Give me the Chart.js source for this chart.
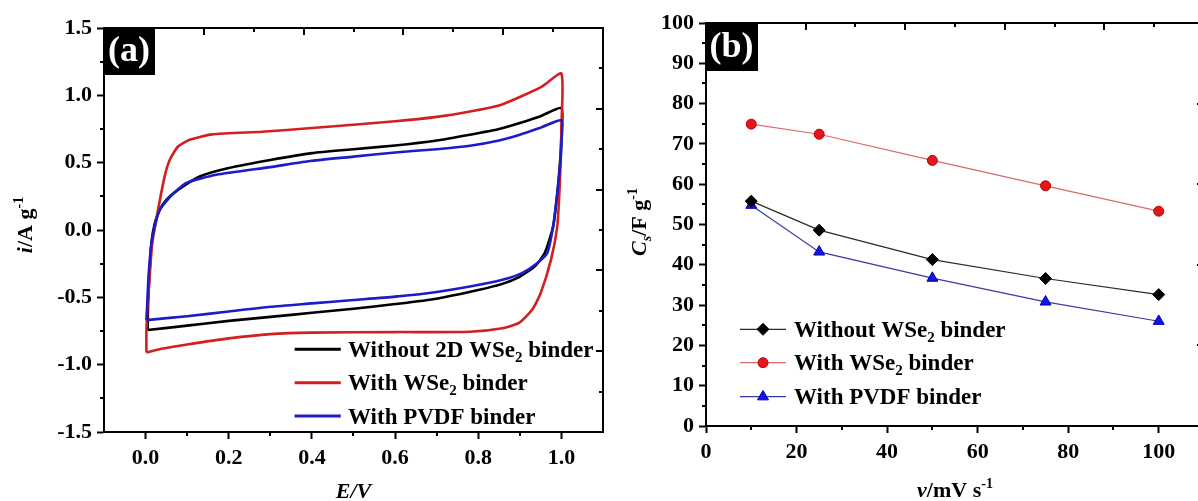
<!DOCTYPE html>
<html>
<head>
<meta charset="utf-8">
<script src="https://cdn.jsdelivr.net/npm/chart.js@4.4.1/dist/chart.umd.min.js"></script>
<style>
html,body{margin:0;padding:0;overflow:hidden;background:#fff;width:1198px;height:501px;}
#ca{position:absolute;left:0;top:0;}
#cb{position:absolute;left:620px;top:0;}
</style>
</head>
<body>
<canvas id="ca" width="620" height="501"></canvas>
<canvas id="cb" width="640" height="501"></canvas>
<script>
// ---------- Panel (a): cyclic voltammograms ----------
const cvLabels = ['Without 2D WSe2 binder', 'With WSe2 binder', 'With PVDF binder'];
const cvColors = ['#000000', '#d21f1f', '#1c1cc8'];
const cvXTicks = [0, 0.2, 0.4, 0.6, 0.8, 1.0];
const cvXMinor = [0.1, 0.3, 0.5, 0.7, 0.9];
const cvYTicks = [-1.5, -1.0, -0.5, 0, 0.5, 1.0, 1.5];
const cvYMinor = [-1.25, -0.75, -0.25, 0.25, 0.75, 1.25];

const cvBlackE = [0.005, 0.006, 0.009, 0.014, 0.022, 0.034, 0.05, 0.078, 0.13, 0.2, 0.3, 0.4, 0.5, 0.6, 0.7, 0.78, 0.85, 0.9, 0.95, 1.0,
                  1.0, 0.997, 0.99, 0.98, 0.96, 0.936, 0.898, 0.858, 0.8, 0.7, 0.6, 0.5, 0.4, 0.3, 0.2, 0.1, 0.005];
const cvBlackI = [-0.743, -0.55, -0.35, -0.1, 0.05, 0.15, 0.224, 0.298, 0.397, 0.46, 0.52, 0.571, 0.60, 0.628, 0.665, 0.708, 0.75, 0.795, 0.845, 0.906,
                  0.70, 0.52, 0.27, 0.025, -0.17, -0.27, -0.35, -0.40, -0.446, -0.51, -0.55, -0.585, -0.615, -0.645, -0.675, -0.71, -0.743];

const cvRedE = [0.002, 0.002, 0.005, 0.0096, 0.016, 0.03, 0.046, 0.058, 0.078, 0.106, 0.16, 0.28, 0.4, 0.6, 0.7, 0.78, 0.85, 0.9, 0.954, 1.0,
                1.0, 0.998, 0.995, 0.99, 0.975, 0.95, 0.93, 0.898, 0.858, 0.78, 0.6, 0.4, 0.3, 0.2, 0.1, 0.042, 0.002];
const cvRedI = [-0.909, -0.75, -0.55, -0.35, -0.1, 0.15, 0.40, 0.52, 0.62, 0.67, 0.71, 0.73, 0.757, 0.807, 0.84, 0.88, 0.925, 0.988, 1.067, 1.161,
                0.77, 0.5, 0.27, 0.025, -0.22, -0.47, -0.59, -0.69, -0.73, -0.756, -0.758, -0.762, -0.773, -0.805, -0.85, -0.88, -0.909];

const cvBlueE = [0.002, 0.004, 0.007, 0.014, 0.026, 0.034, 0.05, 0.07, 0.098, 0.17, 0.3, 0.4, 0.5, 0.6, 0.7, 0.78, 0.85, 0.9, 0.95, 1.0,
                 1.0, 0.998, 0.99, 0.98, 0.966, 0.94, 0.905, 0.858, 0.78, 0.7, 0.6, 0.5, 0.4, 0.3, 0.2, 0.1, 0.002];
const cvBlueI = [-0.669, -0.55, -0.35, -0.1, 0.075, 0.15, 0.215, 0.28, 0.35, 0.41, 0.467, 0.514, 0.545, 0.576, 0.60, 0.626, 0.665, 0.708, 0.76, 0.814,
                 0.65, 0.52, 0.27, 0.025, -0.17, -0.25, -0.32, -0.37, -0.42, -0.46, -0.495, -0.52, -0.545, -0.57, -0.605, -0.64, -0.669];

// ---------- Panel (b): specific capacitance vs scan rate ----------
const scanRates = [10, 25, 50, 75, 100];
const csWithout = [55.8, 48.6, 41.3, 36.6, 32.6];
const csWSe2    = [74.9, 72.4, 65.9, 59.6, 53.3];
const csPVDF    = [54.8, 43.2, 36.7, 30.8, 26.0];
const csLabels = ['Without WSe2 binder', 'With WSe2 binder', 'With PVDF binder'];
const csXTicks = [0, 20, 40, 60, 80, 100];
const csXMinor = [10, 30, 50, 70, 90];
const csYTicks = [0, 10, 20, 30, 40, 50, 60, 70, 80, 90, 100];
const csYMinor = [5, 15, 25, 35, 45, 55, 65, 75, 85, 95];

// frame (top / right) tick positions, inward
const frameTicks = [0, 1, 2, 3, 4, 5, 6, 7, 8, 9, 10];

const SERIF = "'Liberation Serif','Times New Roman',Times,serif";

function segFont(s, size) {
  const sz = (s.sub || s.sup) ? Math.round(size * 0.64) : size;
  return (s.it ? 'italic ' : '') + 'bold ' + sz + 'px ' + SERIF;
}
function richWidth(ctx, segs, size) {
  let w = 0;
  segs.forEach(s => { ctx.font = segFont(s, size); w += ctx.measureText(s.t).width; });
  return w;
}
function drawRich(ctx, segs, x, y, size, align) {
  const w = richWidth(ctx, segs, size);
  let cx = align === 'center' ? x - w / 2 : x;
  ctx.textAlign = 'left';
  ctx.textBaseline = 'alphabetic';
  segs.forEach(s => {
    ctx.font = segFont(s, size);
    const dy = s.sub ? size * 0.22 : (s.sup ? -size * 0.42 : 0);
    ctx.fillText(s.t, cx, y + dy);
    cx += ctx.measureText(s.t).width;
  });
}
function labelSegs(label) {
  const parts = label.split('WSe2');
  const segs = [];
  parts.forEach((p, i) => {
    if (i > 0) { segs.push({t: 'WSe'}); segs.push({t: '2', sub: true}); }
    if (p) segs.push({t: p});
  });
  return segs;
}
function drawMarker(ctx, ds, x, y) {
  const r = ds.pointRadius;
  ctx.fillStyle = ds.pointBackgroundColor;
  ctx.strokeStyle = ds.pointBorderColor;
  ctx.lineWidth = 1;
  ctx.beginPath();
  if (ds.pointStyle === 'circle') {
    ctx.arc(x, y, r, 0, Math.PI * 2);
  } else if (ds.pointStyle === 'rectRot') {
    ctx.moveTo(x, y - r); ctx.lineTo(x + r, y); ctx.lineTo(x, y + r); ctx.lineTo(x - r, y);
  } else {
    for (let k = 0; k < 3; k++) {
      const a = -Math.PI / 2 + k * 2 * Math.PI / 3;
      const px = x + Math.cos(a) * r, py = y + Math.sin(a) * r;
      if (k === 0) ctx.moveTo(px, py); else ctx.lineTo(px, py);
    }
  }
  ctx.closePath();
  ctx.fill();
  ctx.stroke();
}

const deco = {
  id: 'deco',
  afterDraw(chart, args, o) {
    const ctx = chart.ctx, ca = chart.chartArea;
    const sx = chart.scales.x, sy = chart.scales.y, tx = chart.scales.x2, ty = chart.scales.y2;
    ctx.save();
    // minor ticks (outward) + frame ticks (inward)
    ctx.strokeStyle = '#000';
    ctx.lineWidth = 2;
    ctx.beginPath();
    o.xMinor.forEach(v => { const p = Math.round(sx.getPixelForValue(v)); ctx.moveTo(p, ca.bottom); ctx.lineTo(p, ca.bottom + o.minorLen); });
    o.yMinor.forEach(v => { const p = Math.round(sy.getPixelForValue(v)); ctx.moveTo(ca.left, p); ctx.lineTo(ca.left - o.minorLen, p); });
    tx.ticks.forEach(t => {
      if (t.value <= tx.min || t.value >= tx.max) return;
      const L = t.value % 2 === 0 ? o.majorLen : o.minorLen;
      const p = Math.round(tx.getPixelForValue(t.value));
      ctx.moveTo(p, ca.top); ctx.lineTo(p, ca.top + L);
    });
    ty.ticks.forEach(t => {
      if (t.value <= ty.min || t.value >= ty.max) return;
      const L = t.value % 2 === 0 ? o.majorLen : o.minorLen;
      const p = Math.round(ty.getPixelForValue(t.value));
      ctx.moveTo(ca.right, p); ctx.lineTo(ca.right - L, p);
    });
    ctx.stroke();

    // legend
    const L = o.legend;
    chart.data.datasets.forEach((ds, i) => {
      const y = ca.bottom + L.rows[i];
      ctx.strokeStyle = ds.borderColor;
      ctx.lineWidth = L.lineWidth;
      ctx.beginPath();
      ctx.moveTo(ca.left + L.x0, y);
      ctx.lineTo(ca.left + L.x1, y);
      ctx.stroke();
      if (L.marker) drawMarker(ctx, ds, ca.left + L.xm, y);
      ctx.fillStyle = '#000';
      drawRich(ctx, labelSegs(ds.label), ca.left + L.xt, y + L.size * 0.33, L.size, 'left');
    });

    // axis titles
    ctx.fillStyle = '#000';
    drawRich(ctx, o.xTitle, (ca.left + ca.right) / 2, ca.bottom + o.xTitleDy, o.titleSize, 'center');
    ctx.save();
    ctx.translate(ca.left - o.yTitleDx, o.yTitleY);
    ctx.rotate(-Math.PI / 2);
    drawRich(ctx, o.yTitle, 0, 0, o.titleSize, 'center');
    ctx.restore();

    // panel tag
    ctx.fillStyle = '#000';
    ctx.fillRect(ca.left - 1, ca.top - 1, o.tagW, o.tagH);
    ctx.fillStyle = '#fff';
    ctx.font = 'bold 36px ' + SERIF;
    ctx.textAlign = 'center';
    ctx.textBaseline = 'middle';
    ctx.fillText(o.tag, ca.left - 1 + o.tagW / 2, ca.top - 1 + o.tagH / 2 + 1);
    ctx.restore();
  }
};

function axisX(min, max, ticks, fmt, h) {
  return {
    type: 'linear', position: 'bottom', min: min, max: max,
    afterBuildTicks: s => { s.ticks = ticks.map(v => ({value: v})); },
    afterFit: s => { s.height = h; },
    ticks: {font: {family: SERIF, size: 22, weight: 'bold'}, color: '#000', padding: 6, maxRotation: 0, autoSkip: false, callback: fmt},
    grid: {drawOnChartArea: false, drawTicks: true, tickLength: 7, tickWidth: 2, tickColor: '#000'},
    border: {display: true, color: '#000', width: 2}
  };
}
function axisY(min, max, ticks, fmt, w) {
  return {
    type: 'linear', position: 'left', min: min, max: max,
    afterBuildTicks: s => { s.ticks = ticks.map(v => ({value: v})); },
    afterFit: s => { s.width = w; },
    ticks: {font: {family: SERIF, size: 22, weight: 'bold'}, color: '#000', padding: 5, autoSkip: false, callback: fmt},
    grid: {drawOnChartArea: false, drawTicks: true, tickLength: 7, tickWidth: 2, tickColor: '#000'},
    border: {display: true, color: '#000', width: 2}
  };
}
function frameAxis(pos) {
  const horiz = pos === 'top';
  return {
    type: 'linear', position: pos, min: 0, max: 10,
    afterBuildTicks: s => { s.ticks = frameTicks.map(v => ({value: v})); },
    afterFit: s => { if (horiz) s.height = 0; else s.width = 0; },
    ticks: {display: false},
    grid: {display: false, drawTicks: false},
    border: {display: true, color: '#000', width: 2}
  };
}

// ---------- Chart (a) ----------
const cvSets = [[cvBlackE, cvBlackI], [cvRedE, cvRedI], [cvBlueE, cvBlueI]];
new Chart(document.getElementById('ca'), {
  type: 'line',
  data: {
    datasets: cvSets.map((s, k) => ({
      label: cvLabels[k],
      data: s[0].map((e, i) => ({x: e, y: s[1][i]})),
      borderColor: cvColors[k],
      borderWidth: 2.6,
      pointRadius: 0,
      fill: false,
      tension: 0.2,
      order: [2, 1, 0][k]
    }))
  },
  options: {
    responsive: false, animation: false, events: [],
    layout: {padding: {left: 0, right: 17, top: 28, bottom: 0}},
    plugins: {
      legend: {display: false}, tooltip: {enabled: false},
      deco: {
        xMinor: cvXMinor, yMinor: cvYMinor, minorLen: 4, majorLen: 7,
        legend: {rows: [-82.7, -49.3, -16], x0: 190.6, x1: 236.8, xt: 244, lineWidth: 3, size: 23, marker: false},
        xTitle: [{t: 'E/V', it: true}], xTitleDy: 66,
        yTitle: [{t: 'i', it: true}, {t: '/A g'}, {t: '-1', sup: true}], yTitleDx: 72, yTitleY: 225,
        titleSize: 22, tag: '(a)', tagW: 52, tagH: 48
      }
    },
    scales: {
      x: axisX(-0.1, 1.1, cvXTicks, v => v.toFixed(1), 69),
      y: axisY(-1.5, 1.5, cvYTicks, v => v.toFixed(1), 104),
      x2: frameAxis('top'),
      y2: frameAxis('right')
    }
  },
  plugins: [deco]
});

// ---------- Chart (b) ----------
const csSeries = [csWithout, csWSe2, csPVDF];
const csStyle = [
  {line: '#2a2a2a', fill: '#000000', border: '#000000', style: 'rectRot', r: 6},
  {line: '#d96b6b', fill: '#e3161c', border: '#b80000', style: 'circle', r: 5},
  {line: '#3a3aa6', fill: '#1414e6', border: '#0000b0', style: 'triangle', r: 6.3}
];
new Chart(document.getElementById('cb'), {
  type: 'line',
  data: {
    datasets: csSeries.map((vals, k) => ({
      label: csLabels[k],
      data: scanRates.map((x, i) => ({x: x, y: vals[i]})),
      borderColor: csStyle[k].line,
      borderWidth: 1.2,
      pointStyle: csStyle[k].style,
      pointRadius: csStyle[k].r,
      pointBackgroundColor: csStyle[k].fill,
      pointBorderColor: csStyle[k].border,
      pointBorderWidth: 1,
      fill: false,
      tension: 0
    }))
  },
  options: {
    responsive: false, animation: false, events: [],
    layout: {padding: {left: 0, right: 56, top: 23, bottom: 0}},
    plugins: {
      legend: {display: false}, tooltip: {enabled: false},
      deco: {
        xMinor: csXMinor, yMinor: csYMinor, minorLen: 4, majorLen: 7,
        legend: {rows: [-96.7, -63.3, -29.3], x0: 34, x1: 80, xm: 57, xt: 88, lineWidth: 1.2, size: 23, marker: true},
        xTitle: [{t: 'v', it: true}, {t: '/mV s'}, {t: '-1', sup: true}], xTitleDy: 71,
        yTitle: [{t: 'C', it: true}, {t: 's', it: true, sub: true}, {t: '/F g'}, {t: '-1', sup: true}], yTitleDx: 60, yTitleY: 222,
        titleSize: 22, tag: '(b)', tagW: 53, tagH: 49
      }
    },
    scales: {
      x: axisX(0, 110, csXTicks, v => String(v), 75),
      y: axisY(0, 100, csYTicks, v => String(v), 86),
      x2: frameAxis('top'),
      y2: frameAxis('right')
    }
  },
  plugins: [deco]
});
</script>
</body>
</html>
